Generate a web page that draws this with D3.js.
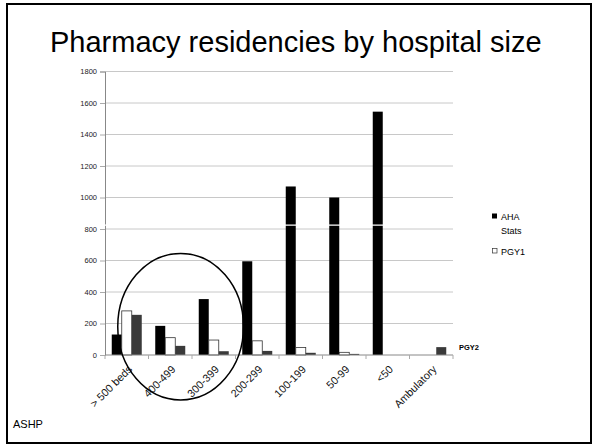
<!DOCTYPE html>
<html>
<head>
<meta charset="utf-8">
<script src="https://cdn.jsdelivr.net/npm/d3@7/dist/d3.min.js"></script>
<style>
  html, body { margin: 0; padding: 0; background: #fff; }
  svg { display: block; font-family: "Liberation Sans", Arial, sans-serif; }
</style>
</head>
<body>
<svg id="chart" width="592" height="445"></svg>
<script>
// Hospital size groups on the category axis
const categories = ["> 500 beds", "400-499", "300-399", "200-299", "100-199", "50-99", "<50", "Ambulatory"];

// Series values per size group
const ahaStats = [130, 185, 355, 595, 1070, 1000, 1545, 0];
const pgy1     = [280, 110, 95, 90, 48, 17, 0, 0];
const pgy2     = [255, 58, 24, 26, 14, 7, 0, 50];

const seriesNames = ["AHA Stats", "PGY1", "PGY2"];
const seriesColors = ["#000000", "#ffffff", "#3a3a3a"];

// Value-axis ticks
const yTicks = [0, 200, 400, 600, 800, 1000, 1200, 1400, 1600, 1800];

const svg = d3.select("#chart");

// Slide frame
svg.append("rect")
  .attr("x", 7).attr("y", 4).attr("width", 584).attr("height", 439)
  .attr("fill", "none").attr("stroke", "#000").attr("stroke-width", 2);

// Title
svg.append("text")
  .attr("x", 50).attr("y", 52)
  .attr("font-size", 29)
  .attr("fill", "#000")
  .text("Pharmacy residencies by hospital size");

// Source note
svg.append("text")
  .attr("x", 13).attr("y", 428)
  .attr("font-size", 11)
  .attr("fill", "#000")
  .text("ASHP");

const plot = { left: 105, right: 453, top: 71.5, bottom: 355 };

const x = d3.scaleBand().domain(categories).range([plot.left, plot.right]).paddingInner(0).paddingOuter(0);
const xs = d3.scaleBand().domain(seriesNames).range([0, x.bandwidth()]).paddingInner(0).paddingOuter(0.675);
const y = d3.scaleLinear().domain([0, 1800]).range([plot.bottom, plot.top]);

// Gridlines
svg.append("g")
  .selectAll("line")
  .data(yTicks.filter(d => d > 0))
  .join("line")
  .attr("x1", plot.left).attr("x2", plot.right)
  .attr("y1", d => y(d)).attr("y2", d => y(d))
  .attr("stroke", "#c8c8c8").attr("stroke-width", 1);

// Value axis
const yAxis = svg.append("g")
  .attr("transform", `translate(${plot.left},0)`)
  .call(d3.axisLeft(y).tickValues(yTicks).tickSize(5).tickPadding(3).tickFormat(d3.format("d")));
yAxis.select(".domain").attr("stroke", "#888");
yAxis.selectAll(".tick line").attr("stroke", "#aaa");
yAxis.selectAll(".tick text")
  .attr("font-family", "Liberation Sans, Arial, sans-serif")
  .attr("font-size", 7.5).attr("fill", "#222");

// Bars
const series = [ahaStats, pgy1, pgy2];
const bars = [];
series.forEach((vals, si) => {
  vals.forEach((v, ci) => bars.push({ cat: categories[ci], name: seriesNames[si], si, v }));
});

svg.append("g")
  .selectAll("rect")
  .data(bars.filter(d => d.v > 0))
  .join("rect")
  .attr("x", d => x(d.cat) + xs(d.name))
  .attr("y", d => y(d.v))
  .attr("width", xs.bandwidth())
  .attr("height", d => y(0) - y(d.v))
  .attr("fill", d => seriesColors[d.si])
  .attr("stroke", d => d.si === 1 ? "#333" : "none")
  .attr("stroke-width", 0.8);

// White break line across the plot
svg.append("line")
  .attr("x1", plot.left - 1).attr("x2", plot.right)
  .attr("y1", y(825)).attr("y2", y(825))
  .attr("stroke", "#fff").attr("stroke-width", 1.2);

// Category axis
const xAxis = svg.append("g")
  .attr("transform", `translate(0,${plot.bottom})`);
xAxis.append("line")
  .attr("x1", plot.left).attr("x2", plot.right)
  .attr("y1", 0).attr("y2", 0)
  .attr("stroke", "#888");
xAxis.selectAll("line.tk")
  .data(categories.map(c => x(c)).concat([plot.right]))
  .join("line")
  .attr("class", "tk")
  .attr("x1", d => d).attr("x2", d => d)
  .attr("y1", 0).attr("y2", 4)
  .attr("stroke", "#aaa");
xAxis.selectAll("text")
  .data(categories)
  .join("text")
  .attr("text-anchor", "end")
  .attr("font-size", 10.8)
  .attr("fill", "#111")
  .attr("transform", d => `translate(${x(d) + x.bandwidth() / 2 + 6},15) rotate(-45)`)
  .text(d => d);

// Highlight ellipse around the larger hospitals
const ex0 = x(categories[0]) + xs(seriesNames[0]) + 6;
const ex1 = x(categories[2]) + x.bandwidth() + 8;
svg.append("ellipse")
  .attr("cx", (ex0 + ex1) / 2)
  .attr("cy", (y(645) + y(-285)) / 2)
  .attr("rx", (ex1 - ex0) / 2)
  .attr("ry", (y(-285) - y(645)) / 2)
  .attr("fill", "none").attr("stroke", "#000").attr("stroke-width", 1.5);

// Legend
const legend = svg.append("g").attr("font-size", 9).attr("fill", "#000");
legend.append("rect").attr("x", 492).attr("y", 213.5).attr("width", 5).attr("height", 5)
  .attr("fill", seriesColors[0]);
legend.append("text").attr("x", 501).attr("y", 220).text("AHA");
legend.append("text").attr("x", 501).attr("y", 234).text("Stats");
legend.append("rect").attr("x", 492.5).attr("y", 248.5).attr("width", 4.5).attr("height", 4.5)
  .attr("fill", seriesColors[1]).attr("stroke", "#333").attr("stroke-width", 0.7);
legend.append("text").attr("x", 501).attr("y", 254.5).text("PGY1");
legend.append("text").attr("x", 459).attr("y", 349.5)
  .attr("font-size", 7.5).attr("font-weight", "bold").text("PGY2");
</script>
</body>
</html>
